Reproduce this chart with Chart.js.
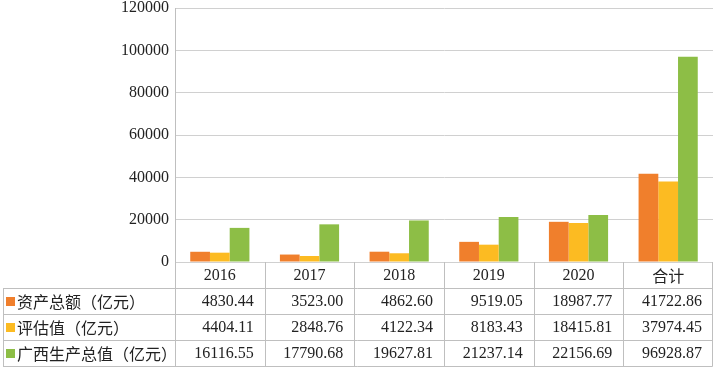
<!DOCTYPE html>
<html>
<head>
<meta charset="utf-8">
<script src="https://cdn.jsdelivr.net/npm/chart.js@4"></script>
<style>
  html, body { margin: 0; padding: 0; background: #fff; }
  #wrap { width: 713px; height: 370px; }
</style>
</head>
<body>
<div id="wrap"><canvas id="c" width="713" height="370"></canvas></div>
<script>
const categories = ['2016', '2017', '2018', '2019', '2020', '合计'];
const seriesNames = ['资产总额（亿元）', '评估值（亿元）', '广西生产总值（亿元）'];
const totalAssets = [4830.44, 3523.00, 4862.60, 9519.05, 18987.77, 41722.86];
const assessedValue = [4404.11, 2848.76, 4122.34, 8183.43, 18415.81, 37974.45];
const guangxiGDP = [16116.55, 17790.68, 19627.81, 21237.14, 22156.69, 96928.87];
const yTicks = [0, 20000, 40000, 60000, 80000, 100000, 120000];

const colors = ['#F07F2C', '#FCBB22', '#8DBE46'];
const seriesData = [totalAssets, assessedValue, guangxiGDP];
const numFont = '16px "Liberation Serif"';
const cjkFont = '16px "Noto Sans CJK SC"';
const lineColor = '#BFBFBF';
const textColor = '#222222';

Chart.defaults.font.family = 'Liberation Serif';
Chart.defaults.font.size = 16;
Chart.defaults.color = textColor;

const tablePlugin = {
  id: 'dataTable',
  afterDraw(chart) {
    const ctx = chart.ctx;
    const xs = chart.scales.x;
    const area = chart.chartArea;
    const n = categories.length;
    const colW = (area.right - area.left) / n;
    const rowH = 26;
    const top = Math.round(area.bottom);
    const bottom = top + rowH * 4;
    const tableLeft = 3;
    const right = Math.round(area.right) - 1;
    ctx.save();
    ctx.strokeStyle = lineColor;
    ctx.lineWidth = 1;
    ctx.beginPath();
    for (let r = 1; r <= 4; r++) {
      const y = top + r * rowH + 0.5;
      ctx.moveTo(tableLeft, y);
      ctx.lineTo(right + 0.5, y);
    }
    for (let i = 0; i <= n; i++) {
      let x = Math.round(xs.getPixelForValue(i) - colW / 2) + 0.5;
      if (i === n) x = right + 0.5;
      ctx.moveTo(x, top);
      ctx.lineTo(x, bottom + 0.5);
    }
    ctx.moveTo(tableLeft + 0.5, top + rowH);
    ctx.lineTo(tableLeft + 0.5, bottom + 0.5);
    ctx.stroke();

    ctx.fillStyle = textColor;
    ctx.textBaseline = 'middle';
    categories.forEach((c, i) => {
      const cx = xs.getPixelForValue(i);
      ctx.textAlign = 'center';
      ctx.font = /[0-9]/.test(c) ? numFont : cjkFont;
      ctx.fillStyle = textColor;
      ctx.fillText(c, cx, top + rowH / 2 + 1);
    });
    seriesData.forEach((arr, r) => {
      const yMid = top + rowH * (r + 1) + rowH / 2 + 1;
      ctx.fillStyle = colors[r];
      ctx.fillRect(tableLeft + 3, Math.round(yMid - 5), 9, 9);
      ctx.fillStyle = textColor;
      ctx.textAlign = 'left';
      ctx.font = cjkFont;
      ctx.fillText(seriesNames[r], tableLeft + 14, yMid);
      ctx.font = numFont;
      ctx.textAlign = 'right';
      arr.forEach((v, i) => {
        const cxr = xs.getPixelForValue(i) + colW / 2 - 11;
        ctx.fillText(v.toFixed(2), cxr, yMid);
      });
    });
    ctx.restore();
  }
};

new Chart(document.getElementById('c'), {
  type: 'bar',
  data: {
    labels: categories,
    datasets: seriesData.map((d, i) => ({
      label: seriesNames[i],
      data: d,
      backgroundColor: colors[i],
      borderWidth: 0,
      categoryPercentage: 0.66,
      barPercentage: 1.0
    }))
  },
  options: {
    responsive: false,
    animation: false,
    devicePixelRatio: 1,
    layout: { padding: { top: 8, right: 0, bottom: 108, left: 0 } },
    plugins: { legend: { display: false }, tooltip: { enabled: false } },
    scales: {
      x: { display: false },
      y: {
        min: 0,
        max: 120000,
        afterBuildTicks(scale) { scale.ticks = yTicks.map(v => ({ value: v })); },
        afterFit(scale) { scale.width = 175; scale.paddingTop = 0; scale.paddingBottom = 0; },
        grid: { color: '#D0D0D0', drawTicks: false },
        border: { color: lineColor },
        ticks: {
          padding: 6,
          color: textColor,
          font: { family: 'Liberation Serif', size: 16 },
          callback: v => String(v)
        }
      }
    }
  },
  plugins: [tablePlugin]
});
</script>
</body>
</html>
